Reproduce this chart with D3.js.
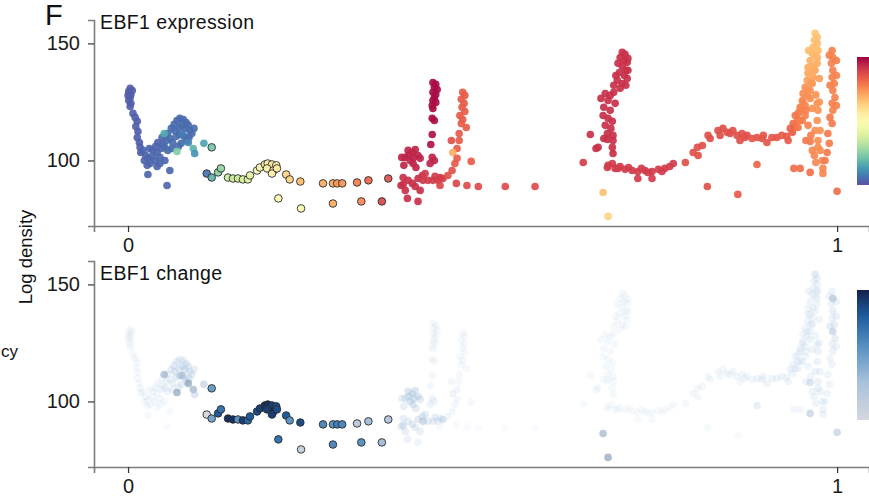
<!DOCTYPE html>
<html>
<head>
<meta charset="utf-8">
<script src="https://cdn.jsdelivr.net/npm/d3@7"></script>
<style>
  html, body { margin: 0; padding: 0; background: #fff; overflow: hidden; }
  svg { display: block; font-family: "Liberation Sans", Arial, Helvetica, sans-serif; }
</style>
</head>
<body>
<svg id="chart" width="869" height="497"></svg>
<script>
// Each row: [pseudotime, log density, EBF1 expression (scaled 0-1), EBF1 change (scaled 0-1)]
const earlyCells = [
  [.003,130.8,.03,.06],[.001,129.5,.03,.06],[.004,128.2,.03,.06],[.003,126.9,.03,.06],[.001,125.6,.03,.06],
  [.004,124.4,.03,.06],[.003,123.1,.03,.06],[.006,129.9,.03,.06],[0,127.8,.03,.06],
  [.007,120.1,.03,.06],[.010,118.4,.03,.06],[.013,116.7,.03,.06],[.011,114.5,.03,.06],[.014,112.4,.03,.07],
  [.013,109.8,.03,.07],[.016,107.7,.03,.07],[.017,105.6,.03,.07],[.018,103.4,.03,.07],
  [.021,104.3,.04,.07],[.025,102.1,.04,.07],[.023,100.0,.04,.07],[.028,100.9,.04,.07],[.031,98.7,.04,.07],
  [.034,101.7,.04,.07],[.038,100.0,.04,.07],[.027,97.9,.04,.07],[.035,104.3,.04,.08],[.041,103.4,.04,.08],
  [.045,101.3,.04,.08],[.030,105.1,.04,.07],[.039,106.0,.04,.08],[.047,105.1,.04,.09],[.042,107.7,.04,.09],
  [.049,106.8,.04,.1],[.054,108.5,.05,.12],[.048,109.8,.04,.1],
  [.056,111.5,.05,.18],[.061,113.7,.05,.2],[.065,115.4,.05,.22],[.069,117.1,.05,.2],[.073,118.0,.05,.18],
  [.078,117.5,.05,.2],[.082,116.2,.05,.22],[.066,112.8,.05,.25],[.072,114.1,.05,.2],[.076,115.0,.05,.25],
  [.080,113.7,.05,.3],[.085,115.0,.05,.22],[.087,112.8,.05,.25],[.059,109.4,.05,.15],[.063,107.7,.05,.18],
  [.068,110.3,.05,.25],[.073,111.1,.05,.3],[.079,110.3,.05,.28],[.083,108.5,.05,.25],[.075,107.3,.05,.2],
  [.071,106.0,.05,.18],[.052,105.6,.05,.12],[.056,104.3,.05,.12],[.062,105.1,.05,.15],[.086,109.8,.05,.3],
  [.090,111.5,.05,.22],[.093,113.7,.05,.2],
  [.028,94.0,.04,.05],[.041,97.4,.04,.05],[.045,98.7,.04,.06],[.055,89.3,.04,.05],[.059,95.7,.04,.06],[.052,100.0,.04,.06],
  [.051,111.5,.16,.45],[.069,103.8,.24,.5],[.092,105.1,.18,.45],[.094,103.0,.12,.3],[.107,107.3,.15,.35],
  [.076,111.1,.08,.4],[.085,107.7,.1,.5]
];

const transitionCells = [
  [.118,105.6,.22,.5],[.111,94.4,.06,0],[.118,92.7,.18,.45],[.127,94.9,.25,.8],[.131,96.6,.27,.7],
  [.141,92.7,.35,.95],[.148,92.3,.36,.95],[.155,92.3,.37,.55],[.162,91.9,.39,.9],[.169,91.9,.41,.75],
  [.172,93.6,.42,.8],[.182,95.7,.47,.85],[.186,97.0,.5,.9],[.193,98.3,.55,.95],[.197,98.7,.54,.95],
  [.203,98.3,.56,.9],[.209,97.9,.55,.85],[.196,96.6,.52,.9],[.205,95.7,.54,.95],[.203,94.4,.52,.9],
  [.210,96.6,.55,.85],[.223,94.0,.62,.8],[.228,91.9,.63,.55],[.243,91.0,.68,.85],[.212,83.8,.5,.7],
  [.244,79.5,.49,.08],[.275,90.2,.7,.6],[.289,90.2,.71,.55],[.295,90.2,.73,.65],[.302,90.2,.74,.6],
  [.323,90.6,.78,.15],[.339,91.5,.82,.3],[.367,92.3,.86,.2],[.289,81.6,.7,.6],[.329,82.5,.76,.55],
  [.358,82.5,.88,.3]
];

const midCells = [
  [.430,133.3,.98,.06],[.434,132.5,.98,.06],[.432,131.2,.98,.06],[.436,130.3,.98,.06],[.430,129.1,.98,.06],
  [.434,128.2,.98,.06],[.432,126.9,.98,.06],[.430,125.6,.98,.06],[.434,124.8,.98,.06],[.429,123.5,.98,.06],
  [.430,122.2,.98,.06],[.429,118.0,.98,.08],[.432,117.1,.98,.08],[.429,111.1,.97,.08],[.427,106.8,.97,.1],
  [.429,101.3,.94,.12],[.432,100.0,.94,.12],[.426,98.7,.94,.12],
  [.395,104.3,.94,.3],[.401,103.4,.94,.3],[.405,104.7,.94,.28],[.409,102.1,.94,.3],[.391,101.3,.94,.25],
  [.398,100.0,.94,.3],[.402,98.7,.94,.28],[.412,100.9,.94,.25],[.406,97.0,.94,.22],[.389,97.9,.94,.2],
  [.386,101.3,.94,.2],[.396,102.1,.94,.3],[.403,101.3,.94,.3],
  [.388,92.7,.92,.2],[.395,91.5,.92,.2],[.385,89.3,.92,.18],[.391,87.2,.92,.2],[.401,90.2,.92,.22],
  [.409,92.3,.92,.25],[.415,93.6,.92,.25],[.405,88.9,.92,.2],[.412,87.2,.92,.18],[.423,91.5,.9,.2],
  [.419,94.4,.9,.22],[.433,93.2,.9,.2],[.440,92.7,.9,.18],[.394,83.8,.92,.15],[.409,82.5,.92,.12],
  [.416,91.5,.9,.35],[.430,91.5,.9,.2],[.437,91.5,.9,.18],[.444,92.3,.9,.3],[.388,89.7,.92,.3],
  [.472,129.1,.84,.07],[.475,127.8,.84,.07],[.470,126.1,.84,.07],[.474,124.4,.84,.07],[.471,122.7,.84,.07],
  [.475,120.9,.84,.07],[.468,119.2,.84,.07],[.472,117.5,.84,.07],[.470,115.8,.84,.07],[.477,114.1,.84,.07],
  [.467,111.5,.84,.08],[.467,108.5,.84,.08],[.464,105.1,.84,.1],[.456,108.5,.86,.08],[.458,103.4,.7,.12],
  [.464,100.9,.84,.1],[.461,98.7,.84,.1],[.457,95.7,.86,.1],[.451,93.6,.86,.1],[.484,99.6,.84,.06],
  [.440,89.3,.88,.05],[.463,90.2,.88,.05],[.478,89.3,.87,.04],[.494,88.9,.87,.04],[.532,88.9,.87,.04],
  [.574,88.9,.87,.04]
];

const lateCells = [
  [.697,146.2,.92,.06],[.701,145.3,.92,.06],[.694,144.0,.92,.06],[.700,142.7,.92,.06],[.691,141.5,.92,.06],
  [.704,141.9,.92,.06],[.697,140.2,.92,.06],[.702,138.5,.92,.06],[.693,137.6,.92,.06],[.700,136.3,.92,.06],
  [.704,135.0,.92,.06],[.690,134.2,.92,.06],[.697,132.9,.92,.06],[.702,132.1,.92,.06],[.705,143.6,.92,.06],
  [.688,136.3,.92,.06],[.705,138.5,.92,.06],[.694,130.8,.92,.06],[.685,132.1,.92,.06],
  [.673,128.6,.92,.06],[.680,127.8,.92,.06],[.685,129.1,.92,.06],[.667,126.5,.92,.06],[.677,125.6,.92,.06],
  [.687,124.4,.92,.06],[.671,122.7,.92,.06],[.680,121.4,.92,.06],[.670,119.2,.92,.06],[.677,118.0,.92,.06],
  [.683,116.7,.92,.06],[.673,115.0,.92,.06],[.681,113.7,.92,.06],[.676,111.5,.92,.06],[.684,110.7,.92,.06],
  [.671,109.4,.92,.06],[.652,111.1,.92,.06],[.663,105.6,.92,.06],[.660,105.1,.92,.06],[.676,109.0,.92,.06],
  [.684,108.5,.92,.06],[.684,103.0,.92,.06],[.683,105.6,.92,.06],[.642,99.1,.9,.05],
  [.677,97.9,.9,.05],[.676,97.0,.9,.05],[.683,98.7,.9,.05],[.687,96.6,.9,.05],[.691,96.6,.9,.05],
  [.701,96.2,.9,.05],[.711,95.7,.9,.05],[.719,95.3,.9,.05],[.729,95.7,.9,.05],[.739,95.3,.9,.05],
  [.748,96.2,.9,.05],[.757,96.6,.9,.05],[.764,97.4,.9,.05],[.769,98.7,.9,.05],[.719,92.3,.9,.05],
  [.739,92.3,.9,.05],[.694,97.4,.9,.05],[.706,97.0,.9,.05],[.724,96.6,.9,.05],[.733,94.9,.9,.05],
  [.753,95.3,.9,.05],
  [.670,86.3,.66,.45],[.677,76.1,.62,.5],
  [.786,99.1,.86,.08],[.797,103.4,.86,.08],[.804,102.1,.86,.08],[.803,105.6,.86,.08],[.810,106.4,.86,.08],
  [.821,109.4,.86,.08],[.818,110.7,.86,.08],[.832,112.8,.86,.08],[.839,113.7,.86,.08],[.845,112.0,.86,.1],
  [.835,110.7,.86,.08],[.849,111.5,.86,.1],[.853,112.8,.86,.1],[.859,110.7,.86,.1],[.866,111.5,.86,.1],
  [.870,109.8,.86,.1],[.863,108.5,.86,.1],[.873,110.7,.86,.1],[.880,109.4,.85,.1],[.887,109.8,.85,.12],
  [.894,109.4,.85,.12],[.901,107.7,.85,.12],[.896,110.7,.85,.12],[.908,109.8,.85,.12],[.915,109.8,.85,.12],
  [.922,110.7,.84,.12],[.929,110.3,.84,.12],[.931,108.5,.84,.12],[.937,112.0,.84,.12],
  [.817,88.9,.86,.05],[.860,85.5,.84,.05],[.887,98.3,.82,.2]
];

const terminalCells = [
  [.941,114.1,.8,.12],[.944,117.1,.78,.12],[.945,120.1,.78,.12],[.948,122.7,.77,.12],[.951,125.6,.76,.12],
  [.952,128.6,.75,.12],[.955,131.2,.74,.12],[.958,134.2,.72,.12],[.959,137.2,.71,.12],[.959,139.7,.7,.12],
  [.962,142.7,.69,.12],[.965,145.7,.68,.12],[.966,148.3,.67,.12],[.968,151.3,.66,.15],[.969,154.3,.65,.25],
  [.972,152.6,.66,.15],[.972,150.0,.67,.12],[.973,147.0,.68,.12],[.972,144.0,.69,.12],[.972,141.5,.7,.12],
  [.969,138.5,.71,.12],[.966,135.5,.72,.12],[.965,132.9,.73,.12],[.962,129.9,.74,.12],[.958,127.8,.75,.12],
  [.952,124.8,.76,.12],[.948,121.4,.77,.12],[.941,119.2,.79,.12],[.938,115.8,.8,.12],[.945,114.1,.79,.12],
  [.951,117.1,.77,.12],[.965,122.2,.74,.15],[.955,123.5,.76,.12],[.962,126.5,.75,.12],[.956,121.4,.77,.12],
  [.948,117.1,.78,.12],[.934,113.7,.82,.12],
  [.962,137.0,.7,.12],[.966,140.0,.7,.12],[.969,145.0,.68,.12],[.963,133.0,.73,.12],[.958,130.0,.74,.12],
  [.970,128.0,.74,.12],[.975,135.0,.72,.12],[.975,125.0,.73,.12],[.960,147.0,.67,.12],[.971,147.5,.66,.12],
  [.972,124.4,.74,.15],[.973,121.4,.74,.15],[.972,117.1,.74,.15],[.969,112.8,.75,.15],[.976,112.8,.74,.15],
  [.973,108.5,.75,.15],[.973,105.6,.75,.15],[.976,104.3,.75,.15],[.979,100.0,.75,.15],[.980,96.6,.76,.15],
  [.955,119.2,.77,.12],[.959,115.0,.77,.12],[.963,110.7,.77,.12],[.956,108.5,.78,.12],[.968,102.1,.76,.12],
  [.970,99.1,.76,.12],[.965,104.3,.76,.12],
  [.939,96.6,.8,.1],[.948,96.6,.8,.1],[.962,94.9,.8,.35],[.980,94.4,.76,.12],[.962,108.1,.78,.3],
  [.993,147.0,.77,.15],[.994,144.0,.77,.4],[.992,141.5,.77,.15],[.994,138.5,.77,.2],[.993,135.5,.77,.15],
  [.996,132.9,.77,.2],[.994,129.9,.77,.35],[.997,126.9,.77,.2],[.993,124.4,.77,.15],[.994,121.4,.77,.15],
  [.990,118.4,.78,.12],[.993,115.8,.78,.12],[.987,111.5,.78,.12],[.989,107.3,.78,.12],[.986,103.4,.78,.12],
  [.983,100.0,.78,.12],[.999,142.7,.77,.15],[.989,144.9,.77,.15],[.999,136.3,.77,.15],[.990,132.1,.77,.2],
  [.999,123.5,.77,.15],
  [1.0,86.8,.8,.35]
];

const xTickValues = [0, 1];
const yTickValues = [100, 150];
const panelTitles = ["EBF1 expression", "EBF1 change"];
const panelLetter = "F";
const yAxisTitle = "Log density";
const sideLabel = "cy";
const highlightWindow = [0.11, 0.37];   // pseudotime window of outlined cells

const cells = [...earlyCells, ...transitionCells, ...midCells, ...lateCells, ...terminalCells]
  .map(([t, dens, expr, chg]) => ({ t, dens, expr, chg,
    hi: t >= highlightWindow[0] && t <= highlightWindow[1] }));
const ordered = cells.filter(d => !d.hi).concat(cells.filter(d => d.hi));

const svg = d3.select("#chart");

const x = d3.scaleLinear().domain([-0.048, 1.045]).range([94, 869]);
const panels = [
  { y: d3.scaleLinear().domain([72, 160]).range([226, 20]), title: panelTitles[0], titleY: 29 },
  { y: d3.scaleLinear().domain([72, 160]).range([467, 261]), title: panelTitles[1], titleY: 280 }
];

const exprColor = d3.scaleSequential(t => d3.interpolateSpectral(1 - t)).domain([0, 1]);
const changeColor = d3.scaleLinear()
  .domain([0, 0.3, 0.55, 0.8, 1])
  .range(["#d5d8dd", "#a6c0da", "#5b93c3", "#1d5c9d", "#14214d"])
  .interpolate(d3.interpolateRgb);
// faint cells read as pale blue rather than grey
const faintTint = d3.scaleLinear().domain([0, 0.3, 1])
  .range(["#bcd3ea", "#a6c0da", "#14214d"]);

function styleAxis(g) {
  g.select(".domain").attr("stroke", "#7c7c7c").attr("stroke-width", 1.6);
  g.selectAll(".tick line").attr("stroke", "#333").attr("stroke-width", 1.2);
  g.selectAll(".tick text").attr("fill", "#1a1a1a").attr("font-size", 20)
    .attr("font-family", "'Liberation Sans', Arial, sans-serif");
}

panels.forEach((p, i) => {
  const base = p.y.range()[0];
  svg.append("g").attr("transform", `translate(0,${base})`)
    .call(d3.axisBottom(x).tickValues(xTickValues).tickFormat(d3.format("d"))
      .tickSizeOuter(0).tickSize(6).tickPadding(6))
    .call(styleAxis);
  svg.append("g").attr("transform", "translate(94,0)")
    .call(d3.axisLeft(p.y).tickValues(yTickValues).tickSizeOuter(0).tickSize(6).tickPadding(8))
    .call(styleAxis);

  const dots = svg.append("g").selectAll("circle").data(ordered).join("circle")
    .attr("cx", d => x(d.t))
    .attr("cy", d => p.y(d.dens))
    .attr("r", 3.8);

  if (i === 0) {
    dots.attr("fill", d => exprColor(d.expr))
      .attr("fill-opacity", 0.92)
      .attr("stroke", d => d.hi ? "#2b2b2b" : "none")
      .attr("stroke-width", 0.9);
  } else {
    dots.attr("fill", d => d.hi ? changeColor(d.chg) : faintTint(d.chg))
      .attr("fill-opacity", d => d.hi ? 1 : Math.min(0.8, 0.06 + d.chg * 1.1))
      .attr("stroke", d => d.hi ? "#2b2b2b" : "none")
      .attr("stroke-width", 0.9);
  }

  svg.append("text").attr("x", 100).attr("y", p.titleY)
    .attr("font-size", 19.5).attr("letter-spacing", 0.4).attr("fill", "#111").text(p.title);
});

// colour bars
const defs = svg.append("defs");
function colorBar(id, scale, y0, y1) {
  const grad = defs.append("linearGradient").attr("id", id)
    .attr("x1", 0).attr("y1", 1).attr("x2", 0).attr("y2", 0);
  d3.range(0, 1.0001, 0.05).forEach(s => {
    grad.append("stop").attr("offset", s).attr("stop-color", scale(s));
  });
  svg.append("rect").attr("x", 857).attr("y", y0).attr("width", 16).attr("height", y1 - y0)
    .attr("fill", `url(#${id})`);
}
colorBar("exprGrad", exprColor, 57, 185);
colorBar("chgGrad", changeColor, 290, 420);

// panel letter and shared y-axis title
svg.append("text").attr("x", 45).attr("y", 25).attr("font-size", 29).attr("fill", "#111").text(panelLetter);
svg.append("text").attr("transform", "translate(32,257) rotate(-90)")
  .attr("text-anchor", "middle").attr("font-size", 18.5).attr("fill", "#111").text(yAxisTitle);
svg.append("text").attr("x", 1).attr("y", 357)
  .attr("font-size", 17).attr("fill", "#111").text(sideLabel);
</script>
</body>
</html>
